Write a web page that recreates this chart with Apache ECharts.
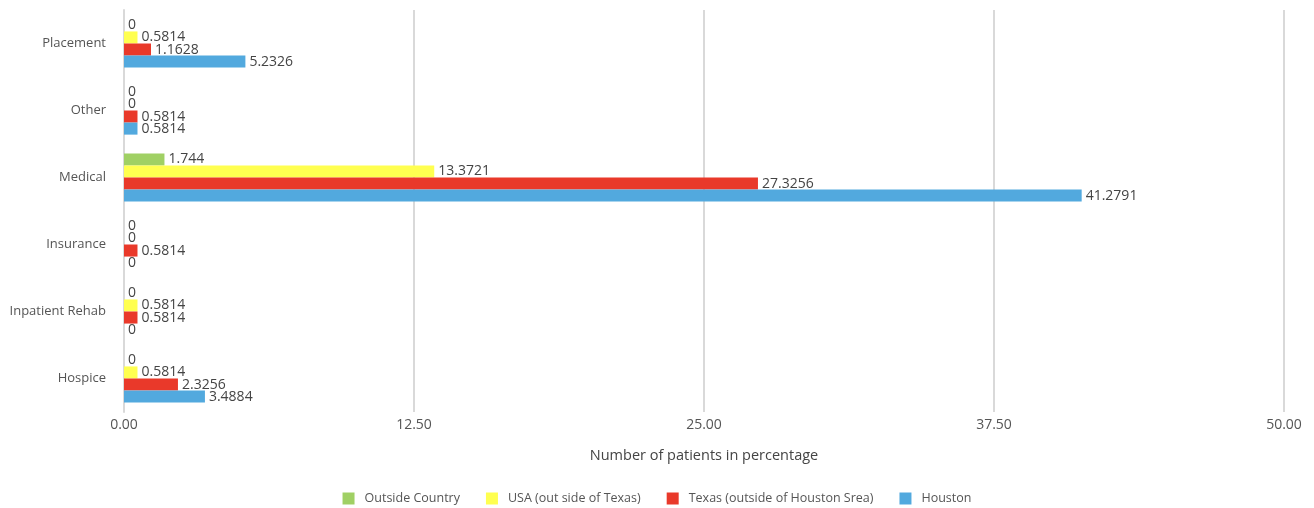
<!DOCTYPE html>
<html>
<head>
<meta charset="utf-8">
<script src="https://cdn.jsdelivr.net/npm/echarts@6/dist/echarts.min.js"></script>
<style>
  html, body { margin: 0; padding: 0; background: #fff; }
  #chart { width: 1314px; height: 508px; }
</style>
</head>
<body>
<div id="chart"></div>
<script>
// ---- data ----
const categories = ['Hospice', 'Inpatient Rehab', 'Insurance', 'Medical', 'Other', 'Placement'];
const seriesNames = ['Outside Country', 'USA (out side of Texas)', 'Texas (outside of Houston Srea)', 'Houston'];
const outsideCountry = [0, 0, 0, 1.744, 0, 0];
const usa = [0.5814, 0.5814, 0, 13.3721, 0, 0.5814];
const texas = [2.3256, 0.5814, 0.5814, 27.3256, 0.5814, 1.1628];
const houston = [3.4884, 0, 0, 41.2791, 0.5814, 5.2326];
const xTicks = [0, 12.5, 25, 37.5, 50];

const colors = ['#a0d064', '#ffff50', '#e9392a', '#52a9de'];
const FONT = '"Open Sans", Lato, sans-serif';

const chart = echarts.init(document.getElementById('chart'));

const seriesData = [outsideCountry, usa, texas, houston];
chart.setOption({
  backgroundColor: '#fff',
  textStyle: { fontFamily: FONT },
  grid: { left: 124, right: 30, top: 10, bottom: 96, containLabel: false },
  legend: {
    bottom: 3,
    left: 'center',
    padding: 0,
    itemWidth: 12,
    itemHeight: 12,
    itemGap: 26,
    icon: 'rect',
    textStyle: { color: '#555', fontSize: 12.5, fontFamily: FONT, padding: [0, 0, 0, 5] },
    data: seriesNames,
  },
  xAxis: {
    type: 'value',
    min: xTicks[0],
    max: xTicks[xTicks.length - 1],
    interval: 12.5,
    name: 'Number of patients in percentage',
    nameLocation: 'middle',
    nameGap: 36,
    nameTextStyle: { color: '#444', fontSize: 14.5, fontFamily: FONT },
    axisLine: { show: false },
    axisTick: { show: false },
    axisLabel: {
      color: '#555', fontSize: 14, margin: 6,
      formatter: v => v.toFixed(2),
    },
    splitLine: { show: true, lineStyle: { color: '#d9d9d9', width: 2 } },
  },
  yAxis: {
    type: 'category',
    data: categories,
    axisLine: { show: true, lineStyle: { color: '#d9d9d9', width: 2 } },
    axisTick: { show: false },
    axisLabel: { color: '#555', fontSize: 13, margin: 18 },
  },
  series: seriesNames.map((name, i) => ({
    name: name,
    type: 'bar',
    data: seriesData[i],
    barGap: '0%',
    barCategoryGap: '28%',
    itemStyle: { color: colors[i] },
    label: {
      show: true,
      position: 'right',
      distance: 4,
      color: '#444',
      fontSize: 14,
      fontFamily: FONT,
    },
  })),
});
</script>
</body>
</html>
